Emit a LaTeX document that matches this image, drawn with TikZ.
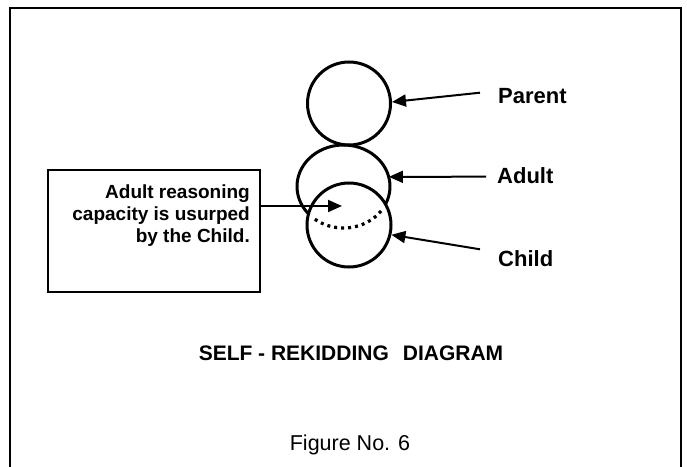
\documentclass[tikz,border=0pt]{standalone}
\usepackage{fontspec}
\setmainfont{Liberation Sans}
\usetikzlibrary{arrows.meta,shapes.geometric}
\tikzset{
  ring/.style={circle, draw, line width=3pt, inner sep=0pt},
  pointer/.style={line width=2pt, -{Triangle[length=14pt,width=12pt]}},
  lbl/.style={anchor=base west, inner sep=0pt, font=\fontsize{22}{26}\selectfont\bfseries},
  frameline/.style={line width=2.5pt},
}
\begin{document}
\begin{tikzpicture}[x=1pt,y=1pt]
\useasboundingbox (0,0) rectangle (687,466);
% outer frame (bottom edge outside the picture)
\draw[frameline] (10,-6) -- (10,458) -- (681,458) -- (681,-6);

% circles
\node[ring, minimum size=83pt] (parent) at (349,362.5) {};
\node[ellipse, minimum width=93pt, minimum height=83pt, inner sep=0pt] (adult) at (343.5,279.5) {};
\node[ring, minimum size=84pt] (child) at (349,241) {};
\draw[line width=3pt] ([shift={(-25.3:46.5 and 41.5)}]adult.center)
  arc[start angle=-25.3, end angle=221.2, x radius=46.5, y radius=41.5];
\draw[line width=3.2pt, dash pattern=on 3pt off 4pt] ([shift={(232:46.5 and 41.5)}]adult.center)
  arc[start angle=232, end angle=329, x radius=46.5, y radius=41.5];

% labels
\node[lbl] (lparent) at (498,362.5) {Parent};
\node[lbl] (ladult) at (497,282) {Adult};
\node[lbl] (lchild) at (498,199.5) {Child};

\coordinate (tparent) at (480,373.3);
\coordinate (tadult) at (486,289.3);
\coordinate (tchild) at (480,216.7);
\draw[pointer] (tparent) -- (parent.2);
\draw[pointer] (tadult) -- (adult.12);
\draw[pointer] (tchild) -- (child.-13);

% box
\node[draw, line width=2pt, minimum width=212pt, minimum height=122pt, inner sep=0pt] (box) at (154,235) {};
\node[anchor=north east, inner sep=0pt, align=right,
      font=\fontsize{19}{21.8}\selectfont\bfseries] (boxtext) at (250,281.5)
  {Adult reasoning\\capacity is usurped\\by the Child.};
\coordinate (tip) at (342,260);
\draw[pointer] (box.east |- tip) -- (tip);

% titles
\node[anchor=base, inner sep=0pt, font=\fontsize{21}{25}\selectfont\bfseries] (title) at (351,106)
  {SELF - REKIDDING\hspace{14pt}DIAGRAM};
\node[anchor=base, inner sep=0pt, font=\fontsize{21.5}{25}\selectfont] (fig) at (350,16) {Figure No. 6};
\end{tikzpicture}
\end{document}
